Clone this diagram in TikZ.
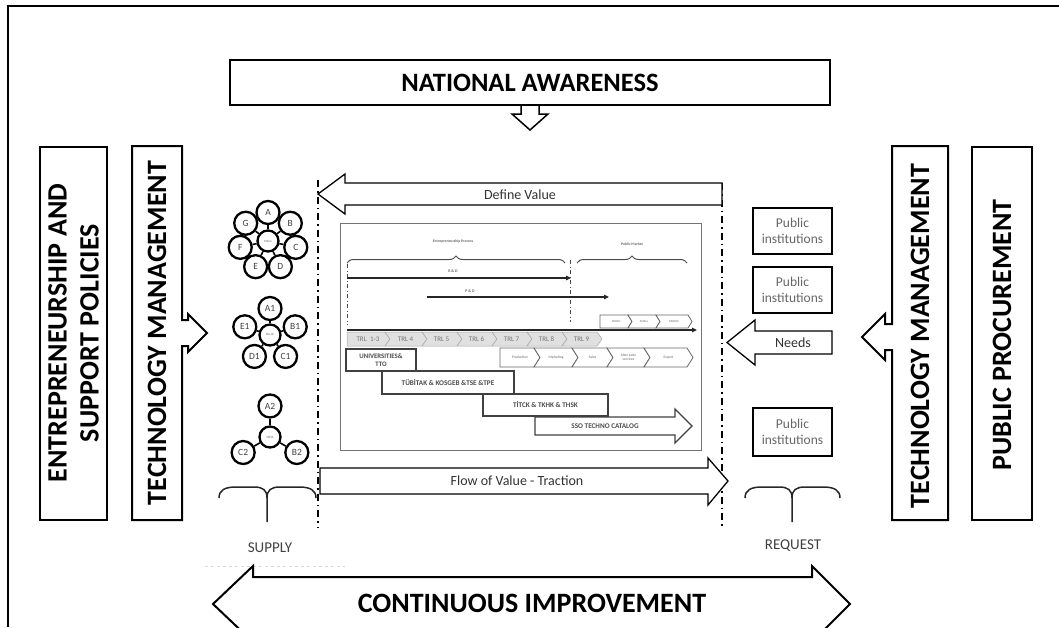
\documentclass[tikz,border=0pt]{standalone}
\usepackage{fontspec}
\setmainfont{Carlito}
\usetikzlibrary{arrows.meta,decorations.pathreplacing,calc}

\begin{document}
\begin{tikzpicture}[x=1pt,y=-1pt,
  bigtxt/.style={font=\fontsize{28}{32}\selectfont\bfseries, align=center},
  heavy/.style={draw, line width=2pt, fill=white},
  blockarrow/.style={draw, line width=1.3pt, fill=white},
  dashdot/.style={line width=1.6pt, dash pattern=on 7pt off 4pt on 1.5pt off 4pt},
  orb/.style={circle, draw, line width=2.3pt, minimum size=23pt, inner sep=0pt,
              font=\fontsize{9.5}{9.5}\selectfont, text=black!75},
  hub/.style={circle, draw, line width=2.3pt, minimum size=21pt, inner sep=0pt,
              font=\fontsize{3.2}{3.2}\selectfont, text=black!60},
  spoke/.style={line width=1.6pt},
  pubbox/.style={draw, line width=1.3pt, minimum width=79pt, minimum height=46pt,
                 align=center, text=black!60, font=\fontsize{13.5}{15.5}\selectfont},
  midtxt/.style={font=\fontsize{14}{16}\selectfont, text=black!80},
  tiny/.style={font=\fontsize{3.6}{4}\selectfont, text=black!60, align=center, inner sep=0pt},
  trlchev/.style={fill=black!12, draw=black!35, line width=0.5pt},
  trltext/.style={font=\fontsize{7}{7}\selectfont, text=black!55, inner sep=0pt},
  whitechev/.style={fill=white, draw=black!60, line width=0.8pt},
  actor/.style={draw=black!75, line width=1.2pt, fill=white, inner sep=1pt,
                font=\fontsize{7.2}{8}\selectfont\bfseries, text=black!70, align=center},
  thinarrow/.style={line width=1.2pt, draw=black!85, -{Triangle[length=5pt,width=4.5pt]}},
  innerdash/.style={line width=1pt, draw=black!70, dash pattern=on 4pt off 2.5pt on 1pt off 2.5pt},
  brace/.style={decorate, decoration={brace, amplitude=7pt}, line width=1pt, draw=black!70},
  bigbrace/.style={line width=1.5pt, draw=black!85},
  labeltxt/.style={font=\fontsize{15}{15}\selectfont, text=black!75}
]
\useasboundingbox (0,0) rectangle (1059,627);
\clip (0,0) rectangle (1059,627);

% outer frame
\draw[line width=1.5pt] (8,627) -- (8,6) -- (1059,6);

% national awareness box with its downward arrow
\draw[blockarrow, line width=1.5pt] (521,104) -- (521,114) -- (512,114) -- (530,130)
      -- (548,114) -- (539,114) -- (539,104);
\node[heavy, minimum width=600pt, minimum height=45pt, bigtxt,
      font=\fontsize{26.5}{30}\selectfont\bfseries] (natl) at (530,82.5) {NATIONAL AWARENESS};

% left policy boxes
\node[heavy, minimum width=67pt, minimum height=373pt] (entbox) at (73.5,333.5) {};
\node[bigtxt, rotate=90] (enttxt) at (73.5,333) {ENTREPRENEURSHIP AND\\SUPPORT POLICIES};
\draw[heavy] (132,146) -- (182,146) -- (182,320) -- (188,320) -- (188,314) -- (207,333)
      -- (188,352) -- (188,346) -- (182,346) -- (182,520) -- (132,520) -- cycle;
\node[bigtxt, rotate=90] (tmleft) at (157,333) {TECHNOLOGY MANAGEMENT};

% right policy boxes
\draw[heavy] (892,146) -- (948,146) -- (948,520) -- (892,520) -- (892,350) -- (885,350)
      -- (885,360) -- (862,337) -- (885,314) -- (885,324) -- (892,324) -- cycle;
\node[bigtxt, rotate=90] (tmright) at (920,336) {TECHNOLOGY MANAGEMENT};
\node[heavy, minimum width=60pt, minimum height=373pt] (ppbox) at (1002,333.5) {};
\node[bigtxt, rotate=90] (pptxt) at (1002,335) {PUBLIC PROCUREMENT};

% enterprise clusters
\node[hub] (m0) at (268,241) {Mikro};
\foreach \l [count=\i] in {A,B,C,D,E,F,G} {
  \node[orb] (m\i) at ($(m0)+({-90+(\i-1)*360/7}:28.5)$) {\l};
  \draw[spoke] (m0) -- (m\i);
}
\node[hub] (k0) at (270,335) {Küçük};
\foreach \l [count=\i] in {A1,B1,C1,D1,E1} {
  \node[orb] (k\i) at ($(k0)+({-90+(\i-1)*72}:26.5)$) {\l};
  \draw[spoke] (k0) -- (k\i);
}
\node[hub] (o0) at (270,437) {ORTA};
\foreach \l/\a [count=\i] in {A2/-90,B2/30,C2/150} {
  \node[orb] (o\i) at ($(o0)+(\a:31)$) {\l};
  \draw[spoke] (o0) -- (o\i);
}

% supply / request boundaries
\draw[dashdot] (318,180) -- (318,527);
\draw[dashdot] (722,183) -- (722,527);

% define value arrow
\draw[blockarrow] (345,183) -- (722,183) -- (722,205) -- (345,205) -- (345,214)
      -- (318,194) -- (345,174) -- cycle;
\node[midtxt] (defval) at (520,195) {Define Value};

% flow of value arrow
\draw[blockarrow] (320,468) -- (708,468) -- (708,458) -- (728,481) -- (708,505)
      -- (708,494) -- (320,494) -- cycle;
\node[midtxt] (flow) at (517,481) {Flow of Value - Traction};

% inner process panel
\draw[black!55, line width=0.9pt] (340,223) rectangle (701,450);
\node[tiny, font=\fontsize{3.8}{4}\selectfont\bfseries] (entproc) at (453,241) {Entrepreneurship Process};
\node[tiny, font=\fontsize{3.8}{4}\selectfont\bfseries] (pubmkt) at (632,244) {Public Market};
\draw[brace] (347,263) -- (565,263);
\draw[brace] (577,263) -- (687,263);
\draw[innerdash] (347,264) -- (347,325);
\draw[innerdash] (570,260) -- (570,322);

\coordinate (rdA) at (347,278); \coordinate (rdB) at (571,278);
\coordinate (pdA) at (427,297); \coordinate (pdB) at (609,297);
\coordinate (axA) at (347,330); \coordinate (axB) at (697,330);
\node[tiny, font=\fontsize{4}{4}\selectfont\bfseries] (rdtxt) at (453,271) {R \& D};
\node[tiny, font=\fontsize{4}{4}\selectfont\bfseries] (pdtxt) at (470,291) {P \& D};
\draw[thinarrow] (rdA) -- (rdB);
\draw[thinarrow] (pdA) -- (pdB);
\draw[thinarrow, line width=1.6pt] (axA) -- (axB);

% enterprise size chevrons
\foreach \a/\b/\n/\t [count=\i] in {600/628/0/MICRO, 628/656/4/SMALL, 656/688/4/MIDDLE} {
  \draw[whitechev] (\a,315) -- (\b,315) -- (\b+4,321.5) -- (\b,328) -- (\a,328) -- (\a+\n,321.5) -- cycle;
  \node[tiny, font=\fontsize{3}{3}\selectfont] (sz\i) at ({(\a+\b)/2+2},321.5) {\t};
}

% technology readiness levels
\foreach \a/\b/\n/\t [count=\i] in {347/385/0/{TRL\enspace 1-3}, 385/422/5/{TRL 4}, 422/457/5/{TRL 5},
    457/492/5/{TRL 6}, 492/527/5/{TRL 7}, 527/562/5/{TRL 8}, 562/597/5/{TRL 9}} {
  \draw[trlchev] (\a,332) -- (\b,332) -- (\b+5,339) -- (\b,346) -- (\a,346) -- (\a+\n,339) -- cycle;
  \node[trltext] (trl\i) at ({(\a+\b)/2+2},339.5) {\t};
}

% commercial stages
\foreach \a/\b/\n/\t [count=\i] in {500/534/0/Production, 534/572/6/Marketing, 572/607/6/Sales,
    607/644/6/{After sales\\services}, 644/687/6/Export} {
  \draw[whitechev] (\a,348) -- (\b,348) -- (\b+6,357.5) -- (\b,367) -- (\a,367) -- (\a+\n,357.5) -- cycle;
  \node[tiny] (st\i) at ({(\a+\b)/2+3},357.5) {\t};
}

% supporting actors
\node[actor, minimum width=70pt, minimum height=22pt, font=\fontsize{6.8}{7.5}\selectfont\bfseries]
  (univ) at (381,360) {UNIVERSITIES\&\\TTO};
\node[actor, minimum width=132pt, minimum height=23pt] (tubitak) at (448,382.5) {TÜBİTAK \& KOSGEB \&TSE \&TPE};
\node[actor, minimum width=125pt, minimum height=22pt] (titck) at (545.5,405) {TİTCK \& TKHK \& THSK};
\draw[actor] (535,417) -- (675,417) -- (675,409) -- (692,426) -- (675,443) -- (675,435)
      -- (535,435) -- cycle;
\node[font=\fontsize{7.2}{8}\selectfont\bfseries, text=black!70] (sso) at (605,426) {SSO TECHNO CATALOG};

% public side
\node[pubbox] (pub1) at (792.5,231) {Public\\institutions};
\node[pubbox] (pub2) at (792.5,290) {Public\\institutions};
\node[pubbox, minimum height=48pt] (pub3) at (792.5,432) {Public\\institutions};
\draw[blockarrow] (832,331) -- (755,331) -- (755,320) -- (727,342.5) -- (755,365)
      -- (755,354) -- (832,354) -- cycle;
\node[midtxt] (needs) at (793,342.5) {Needs};

% supply and request braces
\draw[bigbrace] (219,498) .. controls (219,490) and (225,487) .. (236,487) -- (254,487)
      .. controls (263,487) and (267,490) .. (267,498) -- (267,522);
\draw[bigbrace] (316,498) .. controls (316,490) and (310,487) .. (299,487) -- (280,487)
      .. controls (271,487) and (267,490) .. (267,498);
\draw[bigbrace] (745,498) .. controls (745,490) and (751,487) .. (762,487) -- (779,487)
      .. controls (788,487) and (792,490) .. (792,498) -- (792,522);
\draw[bigbrace] (840,498) .. controls (840,490) and (834,487) .. (823,487) -- (805,487)
      .. controls (796,487) and (792,490) .. (792,498);
\node[labeltxt] (supply) at (270,548) {SUPPLY};
\node[labeltxt] (request) at (793,546) {REQUEST};
\draw[black!15, line width=1pt, dashed] (205,566) -- (345,566);

% continuous improvement
\draw[blockarrow, line width=2pt] (253,577) -- (812,577) -- (812,566) -- (850,604) -- (812,642)
      -- (812,631) -- (253,631) -- (253,642) -- (213,604) -- (253,566) -- cycle;
\node[bigtxt] (cont) at (532,603) {CONTINUOUS IMPROVEMENT};
\end{tikzpicture}
\end{document}
